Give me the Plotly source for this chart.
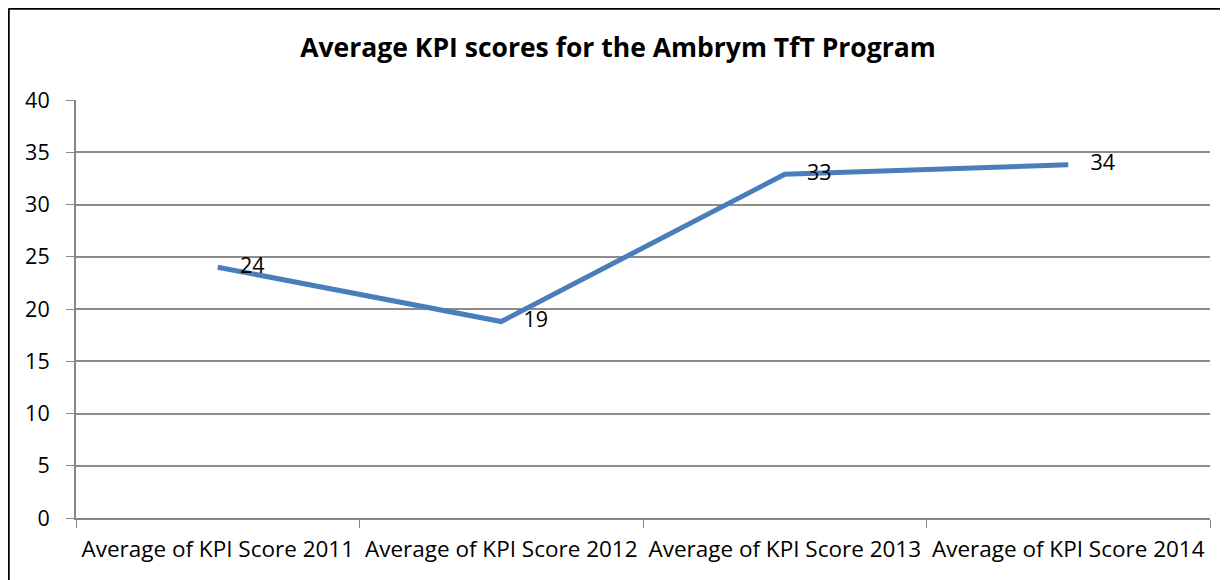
import plotly.graph_objects as go

categories = ["Average of KPI Score 2011", "Average of KPI Score 2012",
              "Average of KPI Score 2013", "Average of KPI Score 2014"]
values = [24.0, 18.8, 32.9, 33.8]
labels = ["24", "19", "33", "34"]
y_ticks = [0, 5, 10, 15, 20, 25, 30, 35, 40]

FONT = "'Open Sans', 'Noto Sans', sans-serif"

# page body has an 8px default margin: size the figure so the plot lands where the reference has it
W, H = 1220, 572
L, R, T, B = 68, 18, 92, 62
PW, PH = W - L - R, H - T - B

fig = go.Figure()
fig.add_trace(go.Scatter(
    x=categories, y=values, mode="lines+markers+text",
    text=labels, textposition="middle right",
    textfont=dict(size=21.5, color="black", family=FONT),
    line=dict(color="#4A7EBB", width=5),
    marker=dict(size=34, color="rgba(0,0,0,0)"),
    hoverinfo="skip", showlegend=False, cliponaxis=False,
))

fig.update_layout(
    width=W, height=H,
    margin=dict(l=L, r=R, t=T, b=B, autoexpand=False),
    paper_bgcolor="white", plot_bgcolor="white",
    font=dict(family=FONT, color="black", size=21),
    title=dict(text="<b>Average KPI scores for the Ambrym TfT Program</b>",
               x=0.5, xanchor="center", y=1 - 40 / H, yanchor="middle",
               font=dict(size=26.5, family=FONT, color="black")),
)
fig.update_xaxes(
    type="category", range=[-0.5, 3.5], tickson="boundaries", ticks="outside", ticklen=8,
    tickcolor="#868686", showline=True, linecolor="#868686", linewidth=2,
    showgrid=False, tickfont=dict(size=22.5, family=FONT), ticklabelstandoff=10,
    tickangle=0, automargin=False,
)
fig.update_yaxes(
    range=[0, 40], tickvals=y_ticks, ticks="outside", ticklen=8,
    tickcolor="#868686", showline=True, linecolor="#868686", linewidth=2,
    showgrid=True, gridcolor="#8C8C8C", gridwidth=2, zeroline=False,
    tickfont=dict(size=21.5, family=FONT), ticklabelstandoff=12, automargin=False,
)

# chart border (Excel chart area frame, left and top edges visible)
bx = (0.5 - L) / PW
by = (PH + T - 0.5) / PH
fig.add_shape(type="line", xref="paper", yref="paper",
              x0=bx, x1=1.05, y0=by, y1=by,
              line=dict(color="black", width=2.5))
fig.add_shape(type="line", xref="paper", yref="paper",
              x0=bx, x1=bx, y0=by, y1=-0.3,
              line=dict(color="black", width=2.5))

fig.write_html("out.html")
